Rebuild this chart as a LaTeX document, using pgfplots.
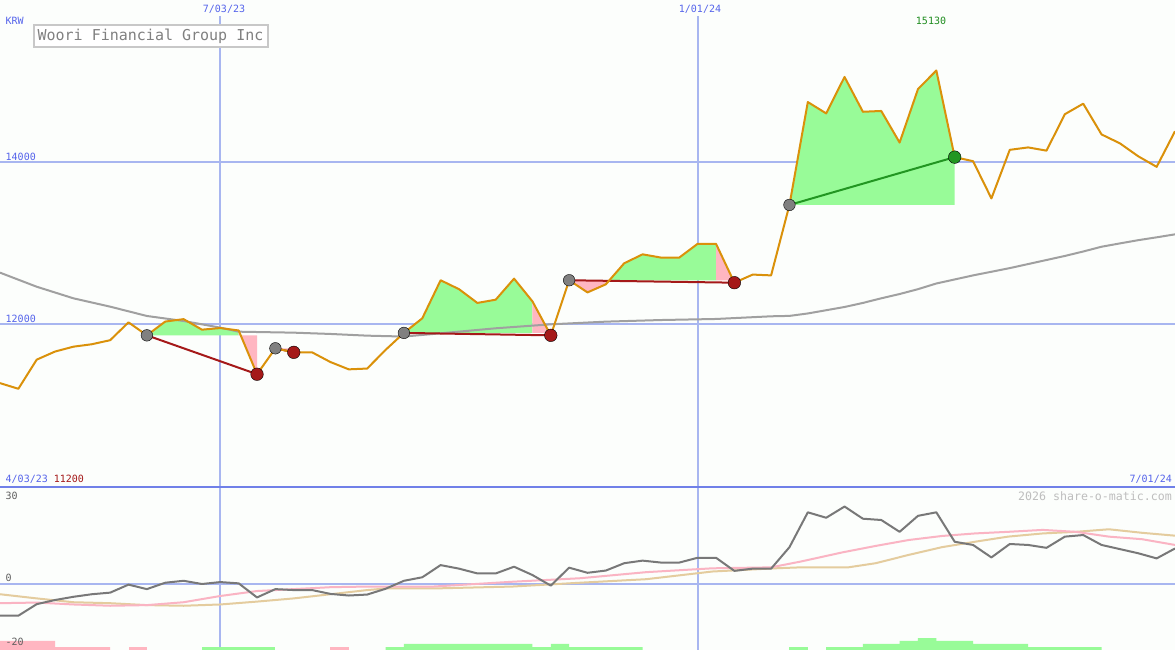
\documentclass[border=0pt]{standalone}
\usepackage{pgfplots}
\pgfplotsset{compat=1.18}
\usepackage{fontspec}
\setmainfont{DejaVu Sans Mono}
\definecolor{bg}{RGB}{252,254,252}
\definecolor{gridb}{RGB}{168,182,240}
\definecolor{sepb}{RGB}{112,128,232}
\definecolor{lblb}{RGB}{85,100,235}
\definecolor{pricec}{RGB}{218,145,10}
\definecolor{magray}{RGB}{160,160,160}
\definecolor{fillg}{RGB}{152,251,152}
\definecolor{fillp}{RGB}{255,182,193}
\definecolor{tradered}{RGB}{165,25,25}
\definecolor{tradegreen}{RGB}{34,150,34}
\definecolor{dotgray}{RGB}{128,128,128}
\definecolor{momgray}{RGB}{120,120,120}
\definecolor{matan}{RGB}{228,204,158}
\definecolor{mapink}{RGB}{250,180,195}
\definecolor{titlegray}{RGB}{128,128,128}
\definecolor{titlebox}{RGB}{200,200,200}
\definecolor{wmgray}{RGB}{190,190,190}
\definecolor{numgray}{RGB}{95,95,95}
\definecolor{maxgreen}{RGB}{30,140,30}

\pgfplotstableread{
i p
0 11270
1 11200
2 11560
3 11660
4 11720
5 11750
6 11800
7 12020
8 11860
9 12030
10 12060
11 11930
12 11950
13 11920
14 11380
15 11700
16 11650
17 11650
18 11530
19 11440
20 11450
21 11680
22 11890
23 12070
24 12540
25 12430
26 12260
27 12300
28 12560
29 12280
30 11860
31 12540
32 12390
33 12490
34 12750
35 12860
36 12820
37 12820
38 12990
39 12990
40 12510
41 12610
42 12600
43 13470
44 14740
45 14600
46 15050
47 14620
48 14630
49 14240
50 14900
51 15130
52 14060
53 14010
54 13550
55 14150
56 14180
57 14140
58 14590
59 14720
60 14340
61 14230
62 14070
63 13940
64 14380
}\price

\pgfplotstableread{
i m
0 12634
2 12460
4 12317
6 12214
8 12099
10 12037
12 11955
13 11905
16 11893
18 11877
20 11856
22 11845
24 11885
27 11947
30 11996
33 12029
36 12049
39 12062
42 12095
43 12100
44 12130
45 12170
46 12210
47 12260
48 12317
49 12370
50 12430
51 12500
52 12550
53 12600
54 12645
55 12690
56 12740
57 12790
58 12840
59 12895
60 12954
61 12995
62 13035
63 13070
64 13107
}\mavg

\pgfplotstableread{
i v
0 -9.9
1 -9.9
2 -6.3
3 -5.0
4 -4.0
5 -3.2
6 -2.7
7 -0.2
8 -1.6
9 0.4
10 1.0
11 0.0
12 0.6
13 0.2
14 -4.2
15 -1.6
16 -1.9
17 -1.9
18 -3.1
19 -3.6
20 -3.3
21 -1.5
22 1.0
23 2.1
24 5.9
25 4.8
26 3.3
27 3.3
28 5.4
29 2.8
30 -0.5
31 5.1
32 3.5
33 4.2
34 6.5
35 7.3
36 6.7
37 6.7
38 8.2
39 8.2
40 4.1
41 4.8
42 4.8
43 11.5
44 22.4
45 20.7
46 24.2
47 20.4
48 20.0
49 16.3
50 21.3
51 22.4
52 13.2
53 12.2
54 8.3
55 12.5
56 12.2
57 11.3
58 14.8
59 15.3
60 12.2
61 10.9
62 9.6
63 8.0
64 11.1
}\mom

\pgfplotstableread{
i v
0 -6.0
2 -5.8
4 -6.4
6 -6.8
8 -6.6
10 -5.7
12 -3.75
14 -2.2
16 -1.6
18 -1.0
20 -0.8
23.6 -0.8
27.9 0.7
31.6 1.8
35.2 3.7
38.8 4.9
42 5.2
43.6 7.0
44 7.5
45.9 9.9
47.7 11.9
49.5 13.75
51.3 15.0
53.1 15.8
54.9 16.3
56.8 16.9
58.6 16.3
60.4 14.8
62.2 14.0
64 12.2
}\mompink

\pgfplotstableread{
i v
0 -3.2
2 -4.5
4 -5.7
6 -6.0
8 -6.6
10 -6.8
12 -6.4
14 -5.5
16 -4.5
18 -3.2
20 -1.9
21 -1.4
23.6 -1.4
27.9 -0.8
31.6 0.4
35.2 1.5
38.8 3.9
42.2 4.9
43.6 5.2
46.2 5.2
47.7 6.5
49.5 9.1
51.3 11.5
53.1 13.2
54.9 14.8
56.8 15.8
58.6 16.3
60.4 17.1
62.2 16.0
64 15.1
}\momtan

\begin{document}
\begin{tikzpicture}
\fill[bg] (0,0) rectangle (1175pt,650pt);

% ---------------- top panel ----------------
\begin{axis}[at={(0pt,164pt)}, anchor=south west, scale only axis,
  width=1175pt, height=486pt, xmin=0, xmax=64, ymin=10000, ymax=16000,
  hide axis, clip=true]
\draw[gridb, line width=2pt] (0,14000) -- (64,14000);
\draw[gridb, line width=2pt] (0,12000) -- (64,12000);
\draw[gridb, line width=2pt] (12,10000) -- (12,15800);
\draw[gridb, line width=2pt] (38,10000) -- (38,15800);

% gain / loss areas
\addplot[fill=fillg, draw=none] coordinates {(8,11860) (9,12030) (10,12060) (11,11930) (12,11950) (13,11920) (13,11860)};
\addplot[fill=fillp, draw=none] coordinates {(13,11860) (13,11920) (14,11380) (14,11860)};
\addplot[fill=fillp, draw=none] coordinates {(15,11700) (16,11650) (16,11700)};
\addplot[fill=fillg, draw=none] coordinates {(22,11890) (23,12070) (24,12540) (25,12430) (26,12260) (27,12300) (28,12560) (29,12280) (29,11890)};
\addplot[fill=fillp, draw=none] coordinates {(29,11890) (29,12280) (30,11860) (30,11890)};
\addplot[fill=fillp, draw=none] coordinates {(31,12540) (32,12390) (33,12490) (33,12540)};
\addplot[fill=fillg, draw=none] coordinates {(33,12540) (33,12490) (34,12750) (35,12860) (36,12820) (37,12820) (38,12990) (39,12990) (39,12540)};
\addplot[fill=fillp, draw=none] coordinates {(39,12540) (39,12990) (40,12510) (40,12540)};
\addplot[fill=fillg, draw=none] coordinates {(43,13470) (44,14740) (45,14600) (46,15050) (47,14620) (48,14630) (49,14240) (50,14900) (51,15130) (52,14060) (52,13470)};

% moving average
\addplot[magray, line width=2pt] table[x=i, y=m] {\mavg};

% entry / exit dots
\addplot[only marks, mark=*, mark size=5.8pt, mark options={fill=dotgray, draw=none}] coordinates {(8,11860) (15,11700) (22,11890) (31,12540) (43,13470)};
\addplot[only marks, mark=*, mark size=6.3pt, mark options={fill=tradered, draw=none}] coordinates {(14,11380) (16,11650) (30,11860) (40,12510)};
\addplot[only marks, mark=*, mark size=6.3pt, mark options={fill=tradegreen, draw=none}] coordinates {(52,14060)};

% trade lines
\addplot[tradered, line width=2pt] coordinates {(8,11860) (14,11380)};
\addplot[tradered, line width=2pt] coordinates {(15,11700) (16,11650)};
\addplot[tradered, line width=2pt] coordinates {(22,11890) (30,11860)};
\addplot[tradered, line width=2pt] coordinates {(31,12540) (40,12510)};
\addplot[tradegreen, line width=2pt] coordinates {(43,13470) (52,14060)};

% price
\addplot[pricec, line width=2pt, line join=round] table[x=i, y=p] {\price};
\end{axis}

% ---------------- bottom panel ----------------
\begin{axis}[at={(0pt,0pt)}, anchor=south west, scale only axis,
  width=1175pt, height=163pt, xmin=0, xmax=64, ymin=-20.625, ymax=30.3125,
  hide axis, clip=true]
\draw[gridb, line width=2pt] (0,0) -- (64,0);
\draw[gridb, line width=2pt] (12,-21) -- (12,31);
\draw[gridb, line width=2pt] (38,-21) -- (38,31);

% signal bars
\addplot[fill=fillp, draw=none] coordinates {(0,-20.625) (0,-17.8) (3,-17.8) (3,-19.7) (6,-19.7) (6,-20.625)};
\addplot[fill=fillp, draw=none] coordinates {(7,-20.625) (7,-19.7) (8,-19.7) (8,-20.625)};
\addplot[fill=fillp, draw=none] coordinates {(18,-20.625) (18,-19.7) (19,-19.7) (19,-20.625)};
\addplot[fill=fillg, draw=none] coordinates {(11,-20.625) (11,-19.7) (15,-19.7) (15,-20.625)};
\addplot[fill=fillg, draw=none] coordinates {(21,-20.625) (21,-19.7) (22,-19.7) (22,-18.75) (29,-18.75) (29,-19.7) (30,-19.7) (30,-18.75) (31,-18.75) (31,-19.7) (35,-19.7) (35,-20.625)};
\addplot[fill=fillg, draw=none] coordinates {(43,-20.625) (43,-19.7) (44,-19.7) (44,-20.625)};
\addplot[fill=fillg, draw=none] coordinates {(45,-20.625) (45,-19.7) (47,-19.7) (47,-18.75) (49,-18.75) (49,-17.8) (50,-17.8) (50,-16.9) (51,-16.9) (51,-17.8) (53,-17.8) (53,-18.75) (56,-18.75) (56,-19.7) (60,-19.7) (60,-20.625)};

\addplot[matan, line width=2pt] table[x=i, y=v] {\momtan};
\addplot[mapink, line width=2pt] table[x=i, y=v] {\mompink};
\addplot[momgray, line width=2pt, line join=round] table[x=i, y=v] {\mom};
\end{axis}

\draw[sepb, line width=2.5pt] (0,163pt) -- (1175pt,163pt);

% ---------------- labels ----------------
\begin{scope}[every node/.style={inner sep=0pt, font=\fontsize{10pt}{12pt}\selectfont}]
\node[anchor=west, text=lblb] at (5.5pt,629pt) {KRW};
\node[text=lblb] at (224pt,641pt) {7/03/23};
\node[text=lblb] at (700pt,641pt) {1/01/24};
\node[text=maxgreen] at (931pt,629pt) {15130};
\node[anchor=west, text=lblb] at (5.5pt,493.5pt) {14000};
\node[anchor=west, text=lblb] at (5.5pt,331pt) {12000};
\node[anchor=west] at (5.5pt,171pt) {\textcolor{lblb}{4/03/23} \textcolor{tradered}{11200}};
\node[anchor=east, text=lblb] at (1172pt,171pt) {7/01/24};
\node[anchor=east, text=wmgray, font=\fontsize{11.6pt}{13pt}\selectfont] at (1172pt,154pt) {2026 share-o-matic.com};
\node[anchor=west, text=numgray] at (5.5pt,154pt) {30};
\node[anchor=west, text=numgray] at (5.5pt,72pt) {0};
\node[anchor=west, text=numgray] at (5.5pt,8pt) {-20};
\end{scope}
\node[draw=titlebox, line width=2pt, fill=white, text=titlegray, inner sep=0pt,
  minimum width=234pt, minimum height=22pt, font=\fontsize{15pt}{18pt}\selectfont]
  at (150.5pt,613.5pt) {Woori Financial Group Inc};

\pgfresetboundingbox
\path[use as bounding box] (0,0) rectangle (1175pt,650pt);
\end{tikzpicture}
\end{document}
